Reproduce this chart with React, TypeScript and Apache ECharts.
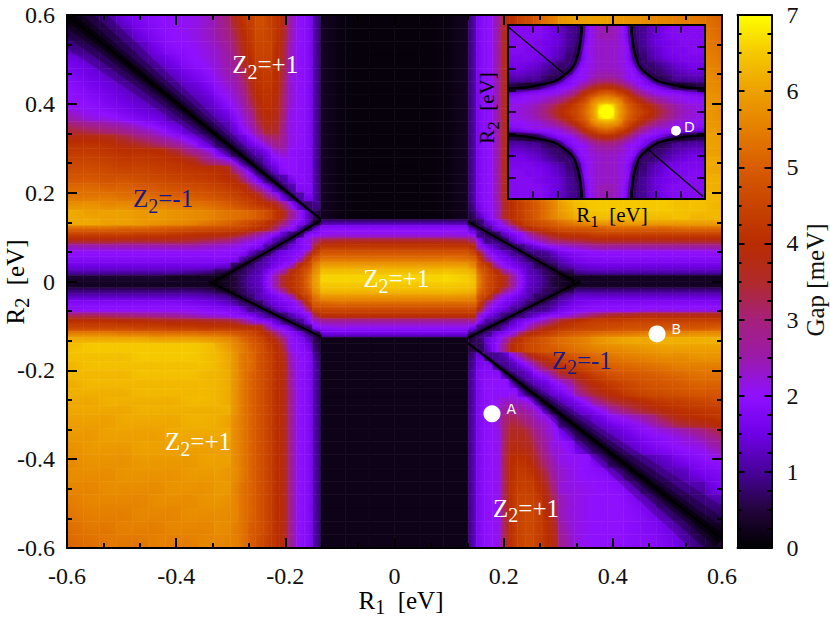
import React, { useEffect, useRef } from "react";
import * as echarts from "echarts";

// Cell edges of the main map, in eV (non-uniform: finer where the picture changes quickly)
const xEdges = [-0.6,-0.57,-0.54,-0.51,-0.48,-0.45,-0.42,-0.39,-0.36,-0.33,-0.3,-0.285,-0.27,-0.255,-0.24,-0.225,-0.21,-0.195,-0.18,-0.165,-0.15,-0.135,-0.09,-0.045,0,0.045,0.09,0.135,0.15,0.165,0.18,0.195,0.21,0.225,0.24,0.255,0.27,0.285,0.3,0.33,0.36,0.39,0.42,0.45,0.48,0.51,0.54,0.57,0.6];
const yEdges = [0.6,0.57,0.54,0.51,0.48,0.45,0.42,0.39,0.36,0.33,0.3,0.28,0.26,0.24,0.22,0.2,0.18,0.16,0.14,0.126,0.112,0.098,0.084,0.07,0.056,0.042,0.028,0.014,0,-0.014,-0.028,-0.042,-0.056,-0.07,-0.084,-0.098,-0.112,-0.126,-0.14,-0.16,-0.18,-0.2,-0.22,-0.24,-0.26,-0.28,-0.3,-0.33,-0.36,-0.39,-0.42,-0.45,-0.48,-0.51,-0.54,-0.57,-0.6];

// Gap in tenths of a meV; one row per y cell, top to bottom
const gapLeft = [
[6,8,10,14,17,19,20,21,23,28,36,41,44,47,45,42,36,24,20,18,10],
[8,8,9,11,15,18,20,21,23,27,33,39,43,46,45,42,35,24,20,18,10],
[11,10,10,10,12,16,19,20,22,25,31,37,42,45,45,41,34,23,20,18,10],
[15,13,11,10,11,13,16,19,21,24,28,35,40,44,44,40,33,23,20,18,10],
[17,15,13,11,10,11,13,16,19,23,26,32,38,42,43,40,32,22,20,18,10],
[19,17,15,13,11,10,11,13,16,21,24,29,36,41,42,39,31,22,20,18,10],
[20,19,17,15,13,11,10,11,13,18,22,26,33,39,41,38,30,22,20,18,10],
[23,21,20,18,16,14,11,10,11,14,19,23,28,36,39,37,29,21,20,18,10],
[32,30,28,26,23,20,16,12,10,11,15,20,24,31,36,35,27,21,20,18,10],
[40,40,39,36,33,29,25,20,14,10,11,13,17,21,26,29,26,21,20,18,10],
[43,43,42,41,41,40,36,30,24,15,10,10,11,13,17,22,23,20,19,18,10],
[45,45,44,43,43,42,41,38,31,25,19,13,10,10,14,18,20,20,19,18,10],
[47,47,46,45,45,44,43,42,41,39,29,22,16,10,11,14,19,20,19,18,10],
[49,49,48,48,47,46,45,44,43,41,38,30,22,15,10,10,11,17,19,18,10],
[52,52,51,51,50,49,48,47,46,44,42,40,33,26,19,12,10,11,18,18,10],
[54,54,54,53,53,52,51,50,49,47,45,43,41,37,30,24,14,10,11,16,10],
[58,58,57,57,56,56,55,54,53,51,49,47,45,43,41,37,30,20,12,8,9],
[61,60,60,60,59,59,58,57,56,54,53,52,51,49,46,42,36,26,20,12,6],
[61,61,60,60,59,58,57,56,54,52,50,48,46,44,41,36,30,22,18,12,6],
[52,52,52,51,51,50,49,48,47,46,45,44,42,40,36,30,22,19,12,9,15],
[44,44,44,44,43,43,42,41,40,39,37,34,30,26,22,18,12,9,10,18,20],
[36,36,36,35,35,35,35,34,32,30,27,24,22,20,17,11,9,11,18,21,30],
[24,24,24,24,24,24,24,24,23,22,21,20,18,16,10,9,10,15,18,21,37],
[20,20,20,20,20,20,20,20,20,20,19,18,12,9,9,13,16,18,20,31,44],
[18,18,18,18,18,18,18,18,18,18,17,10,8,9,12,15,17,19,26,41,50],
[15,15,15,15,15,15,15,15,15,14,7,7,8,11,13,17,20,26,40,46,55],
[11,11,11,11,11,11,11,10,9,6,6,7,10,12,17,22,28,39,44,50,58],
[4,4,4,4,4,4,3,3,3,3,5,8,11,13,19,26,36,41,45,52,60],
[3,3,3,3,3,3,3,3,3,3,5,8,11,13,19,26,36,41,45,52,60],
[8,8,8,8,8,8,8,8,7,5,5,7,10,12,17,22,29,39,44,50,58],
[13,13,13,13,13,13,13,13,12,10,7,7,8,12,14,17,20,26,40,46,54],
[18,18,18,18,18,18,18,17,16,14,11,8,8,8,12,15,17,19,26,41,50],
[20,20,20,20,20,20,20,20,19,18,17,14,9,9,9,12,15,18,20,31,45],
[32,32,31,30,29,28,27,25,23,22,20,19,17,13,10,9,9,12,16,20,34],
[41,41,41,40,40,39,38,38,37,36,34,29,24,21,19,14,10,9,10,17,23],
[46,46,46,46,45,45,44,44,43,43,42,41,40,38,28,21,18,13,9,9,18],
[56,56,56,55,55,54,54,54,53,52,50,48,46,43,38,31,23,19,15,10,8],
[62,62,62,62,62,61,61,61,60,58,55,52,49,46,42,37,29,20,18,13,6],
[64,65,65,65,65,65,65,65,64,61,57,54,51,48,44,40,33,21,19,16,7],
[64,64,64,64,65,65,65,65,64,62,58,54,52,48,45,41,36,23,20,18,9],
[63,64,64,64,64,64,64,64,64,62,58,54,52,48,45,41,37,24,20,18,10],
[63,63,63,63,64,64,64,64,63,62,58,54,51,48,45,41,37,25,20,18,10],
[62,63,63,63,63,63,63,63,63,62,58,54,51,48,45,41,37,25,20,18,10],
[62,62,62,62,63,63,63,63,63,62,58,54,51,48,45,41,37,26,20,18,10],
[61,61,62,62,62,62,62,63,63,62,58,54,51,48,45,41,37,26,20,18,10],
[61,61,61,61,62,62,62,62,62,62,58,54,51,48,45,41,37,26,20,18,10],
[60,60,60,61,61,61,61,62,62,61,57,54,51,48,45,41,37,26,20,18,10],
[59,59,60,60,60,60,61,61,61,61,57,54,51,48,45,41,37,26,20,18,10],
[58,59,59,59,60,60,60,60,60,60,57,54,51,48,45,41,37,26,20,18,10],
[57,58,58,58,59,59,59,59,60,60,57,54,51,48,45,41,37,26,20,18,10],
[57,57,57,58,58,58,58,59,59,59,57,54,51,48,45,41,37,26,20,18,10],
[56,56,57,57,57,57,58,58,58,59,56,53,51,48,45,41,37,26,20,18,10],
[55,56,56,56,56,57,57,57,58,58,56,53,51,48,45,41,37,26,20,18,10],
[54,55,55,55,56,56,56,57,57,57,56,53,51,48,45,41,37,26,20,18,10],
[53,54,54,55,55,55,56,56,56,57,55,53,50,48,45,41,37,26,20,18,10],
[52,53,54,54,54,55,55,55,56,56,55,53,50,47,44,41,37,26,20,18,10],
];
const gapCore = [
[2,1,1,1,1,2],[2,1,1,1,1,2],[2,1,1,1,1,2],[2,1,1,1,1,2],[2,1,1,1,1,2],[2,1,1,1,1,2],
[2,1,1,1,1,2],[2,1,1,1,1,2],[2,1,1,1,1,2],[2,1,1,1,1,2],[2,1,1,1,1,2],[2,1,1,1,1,2],
[2,1,1,1,1,2],[2,1,1,1,1,2],[2,1,1,1,1,2],[2,1,1,1,1,2],[2,1,1,1,1,2],[2,1,1,1,1,2],
[10,10,10,10,10,10],[19,19,19,19,19,19],[22,22,22,22,22,22],[35,36,36,36,36,35],[43,43,43,43,43,43],
[49,49,49,49,49,49],[54,54,54,54,54,54],[60,60,60,60,60,60],[64,64,64,64,64,64],[66,66,66,66,66,66],
[65,65,65,65,65,65],[63,63,63,63,63,63],[58,58,58,58,58,58],[52,52,52,52,52,52],[46,46,46,46,46,46],
[40,40,40,40,40,40],[26,26,26,26,26,26],[20,20,20,20,20,20],[14,14,14,14,14,14],[2,2,2,2,2,2],
[2,2,2,2,2,2],[2,2,2,2,2,2],[2,2,2,2,2,2],[2,2,2,2,2,2],[2,2,2,2,2,2],[2,2,2,2,2,2],
[2,2,2,2,2,2],[2,2,2,2,2,2],[2,2,2,2,2,2],[2,2,2,2,2,2],[2,2,2,2,2,2],[2,2,2,2,2,2],
[2,2,2,2,2,2],[2,2,2,2,2,2],[2,2,2,2,2,2],[2,2,2,2,2,2],[2,2,2,2,2,2],[2,2,2,2,2,2],
];
const gapRight = [
[10,18,20,25,37,41,45,47,50,53,55,59,60,60,59,58,57,56,55,54,52],
[10,18,20,25,37,41,45,47,50,53,55,59,60,60,59,59,58,57,56,55,53],
[10,18,20,25,37,41,45,48,50,53,56,59,61,60,60,59,58,58,57,56,54],
[10,18,20,25,37,41,45,48,51,54,56,60,61,61,60,60,59,58,58,57,55],
[10,18,20,25,37,41,45,48,51,54,56,60,61,61,61,60,60,59,58,58,56],
[10,18,20,25,37,41,45,48,51,54,57,60,62,61,61,61,60,60,59,58,57],
[10,18,20,25,37,41,45,48,51,54,57,60,62,62,62,61,61,60,60,59,58],
[10,18,20,25,37,41,45,48,51,54,57,61,62,62,62,62,61,61,60,60,58],
[10,18,20,25,37,41,45,48,51,54,57,61,63,63,62,62,62,61,61,60,59],
[10,18,20,25,37,41,45,48,51,54,57,61,63,63,63,62,62,62,61,61,60],
[10,18,20,25,37,41,45,48,51,54,57,62,63,63,63,63,62,62,62,61,60],
[10,18,20,25,37,41,45,48,51,54,57,62,63,63,63,63,63,62,62,62,61],
[10,18,20,25,37,41,45,48,51,54,57,62,64,63,63,63,63,63,63,62,61],
[10,18,20,25,37,41,45,48,51,54,57,62,64,64,63,63,63,63,63,62,62],
[10,18,20,25,37,41,45,48,51,54,57,62,64,64,64,64,63,63,63,63,62],
[10,18,20,25,37,41,45,48,51,54,57,62,64,64,64,64,64,64,63,63,63],
[9,17,20,24,36,41,44,47,50,53,56,61,64,65,65,65,65,65,64,64,63],
[7,14,19,24,36,41,44,47,50,53,56,60,63,64,64,64,64,64,64,63,63],
[6,8,15,19,26,36,42,45,47,49,51,54,57,59,59,60,60,60,60,60,60],
[12,9,10,16,19,24,33,39,42,44,46,48,49,50,51,51,51,51,52,52,52],
[20,9,8,8,13,17,20,26,31,35,38,41,42,44,44,44,44,44,44,44,44],
[30,17,9,9,9,13,17,20,23,27,30,32,34,36,36,36,36,36,36,36,36],
[40,22,16,12,9,9,9,12,15,18,20,22,24,26,26,26,26,26,26,26,26],
[46,34,21,17,14,10,9,9,9,10,13,17,19,20,20,20,20,20,20,20,20],
[52,42,27,20,17,14,11,8,8,8,10,14,17,18,18,18,18,18,18,18,18],
[57,47,41,26,20,17,14,11,7,7,7,11,14,15,15,15,15,15,15,15,15],
[62,51,45,39,28,22,17,12,10,7,6,6,10,11,11,11,11,11,11,11,11],
[64,53,46,42,36,26,19,13,11,8,5,3,3,3,3,3,3,3,3,3,3],
[64,53,46,42,36,26,19,13,11,8,5,3,3,3,3,3,3,3,3,3,3],
[62,51,45,39,28,22,17,12,10,7,6,6,9,9,9,9,9,9,9,9,9],
[57,47,41,26,20,17,14,11,7,7,7,11,14,14,14,14,14,14,14,14,14],
[52,42,27,20,17,14,11,8,8,8,10,14,17,18,18,18,18,18,18,18,18],
[46,34,21,17,14,10,9,9,9,10,13,17,19,20,20,20,21,21,21,21,21],
[40,22,16,12,9,9,9,12,15,18,20,22,28,33,36,37,38,38,38,38,38],
[26,17,10,9,9,13,17,20,23,27,32,38,42,44,44,45,45,45,45,45,45],
[16,9,8,8,13,17,20,27,33,37,40,43,45,46,47,48,48,49,49,49,50],
[8,9,10,16,19,24,33,39,42,44,46,49,51,53,54,55,56,57,57,58,58],
[6,8,15,19,26,36,42,45,47,49,51,53,55,58,60,61,61,62,62,62,62],
[6,7,14,20,29,40,43,46,47,49,50,52,54,56,57,58,59,60,60,60,60],
[9,15,9,10,12,19,26,34,39,42,44,47,50,52,54,55,56,57,57,58,58],
[10,17,18,11,10,12,16,21,28,34,38,43,46,49,51,52,53,54,55,55,55],
[11,18,19,19,12,10,11,14,19,22,28,36,41,45,48,49,50,51,52,53,53],
[11,18,20,20,20,13,10,11,13,15,19,24,35,41,44,46,48,49,50,51,51],
[11,18,20,20,20,20,13,10,11,12,15,19,30,37,41,44,46,47,48,49,49],
[11,18,20,21,23,23,22,20,13,10,11,14,20,29,35,38,41,43,44,45,46],
[11,18,20,21,26,27,26,24,21,14,10,11,15,20,27,32,36,39,41,42,43],
[11,18,20,22,30,33,31,28,24,22,18,10,11,14,18,21,25,31,36,38,40],
[11,18,20,21,31,36,36,33,28,24,21,15,10,11,13,16,19,21,23,26,30],
[11,18,20,21,32,38,38,36,31,26,22,20,13,10,11,13,16,18,20,21,24],
[11,18,20,21,33,40,41,39,34,29,24,21,20,15,10,10,11,13,16,18,20],
[11,18,20,21,33,41,43,42,38,33,26,22,20,19,16,11,10,11,12,15,17],
[11,18,20,21,33,42,44,44,41,36,29,22,21,20,19,16,11,10,11,11,15],
[11,18,20,21,33,42,45,45,43,38,32,23,21,20,20,18,15,11,10,10,11],
[11,18,20,21,33,42,45,46,44,40,34,23,21,20,20,19,17,14,11,10,9],
[11,18,20,21,33,42,45,46,44,41,36,24,21,20,20,19,18,16,13,9,7],
[11,18,20,21,33,42,45,46,44,41,37,25,21,20,20,19,19,17,14,10,6],
];

// Inset: one quadrant of the symmetric map, tenths of a meV, from the centre outwards
const insetQuadrant = [
[70,60,52,46,42,38,33,29,25,23,22,21],
[60,56,48,42,36,31,27,24,22,21,20,20],
[50,46,41,33,27,23,21,20,19,18,17,16],
[38,35,30,24,20,18,15,12,8,7,7,8],
[28,26,22,20,17,12,8,8,10,10,11,11],
[24,23,21,18,11,8,8,10,12,13,14,14],
[23,22,20,15,9,8,10,12,14,15,16,16],
[23,22,19,11,8,11,13,15,16,17,17,17],
[23,22,19,10,9,12,14,16,17,17,18,18],
[23,22,18,10,10,13,15,16,17,18,18,18],
[24,22,17,10,10,13,15,17,18,18,18,18],
[24,22,17,10,10,13,15,17,18,18,18,18],
];

const colorStops = ["#000000","#22043c","#48029a","#7000e6","#8f10ff","#9a1aaa","#a6207c","#b02a2a","#b92c00","#c84400","#d85c00","#e57f00","#eda000","#f5c800","#ffff00"];

// Lines where the gap closes
const mainFans = [
  [-0.135,0.14,-0.6,0.6],
  [0.135,-0.139,0.6,-0.58],
];
const fanLayers = [[28,0.2],[18,0.3],[10,0.4],[5,0.6]];
const mainRidges = [
  [[-0.6,0.6],[-0.135,0.14]],
  [[0.135,-0.139],[0.6,-0.58]],
];
const hexRidges = [
  [[-0.33,0],[-0.25,0.055],[-0.2,0.09],[-0.135,0.138]],
  [[-0.34,0],[-0.243,-0.06],[-0.134,-0.125]],
  [[0.135,0.135],[0.2,0.09],[0.25,0.055],[0.33,0]],
  [[0.135,-0.127],[0.34,0]],
];
const insetDiagonals = [
  [[-4,3.92],[-1.68,1.72]],
  [[1.64,-1.68],[3.92,-3.88]],
];
const insetArcs = [
  [[-1.016,4],[-1.16,2.68],[-1.64,1.76],[-2.72,1.24],[-4,1.08]],
  [[1.016,4],[1.16,2.68],[1.64,1.76],[2.72,1.24],[4,1.08]],
  [[-1.016,-4],[-1.16,-2.68],[-1.64,-1.76],[-2.72,-1.24],[-4,-1.08]],
  [[1.016,-4],[1.16,-2.68],[1.64,-1.76],[2.72,-1.24],[4,-1.08]],
];
const mainPoints = [["A",0.1786,-0.298],["B",0.481,-0.118]];
const insetPoints = [["D",2.82,-0.86]];
const phaseLabels = [
  ["+1",-0.237,0.488,"#ffffff"],
  ["-1",-0.424,0.186,"#1a1a8c"],
  ["+1",0.003,0.006,"#ffffff"],
  ["+1",-0.36,-0.361,"#ffffff"],
  ["-1",0.343,-0.177,"#1a1a8c"],
  ["+1",0.241,-0.51,"#ffffff"],
];

const SERIF = "Liberation Serif";
const SANS = "DejaVu Sans";
const INK = "#000000";

const stopRgb = colorStops.map((h) => [1, 3, 5].map((i) => parseInt(h.slice(i, i + 2), 16)));
const gapColor = (v: number) => {
  const t = Math.min(Math.max(v, 0), 7) * 2;
  const i = Math.min(Math.floor(t), 13);
  const f = t - i;
  const c = stopRgb[i].map((a, k) => Math.round(a + (stopRgb[i + 1][k] - a) * f));
  return `rgb(${c[0]},${c[1]},${c[2]})`;
};

// Each cell is one rect; inside it the colour is shaded along the local slope, as a smooth raster would be.
const renderCell = (_: any, api: any) => {
  const x0 = api.value(0), x1 = api.value(1), y0 = api.value(2), y1 = api.value(3);
  const v = api.value(4), sx = api.value(5), sy = api.value(6);
  const a = api.coord([x0, y0]);
  const b = api.coord([x1, y1]);
  const w = b[0] - a[0], h = b[1] - a[1];
  const gx = sx * (x1 - x0) / w, gy = sy * (y1 - y0) / h;
  const g = Math.hypot(gx, gy);
  let fill: any = gapColor(v);
  if (g > 1e-4) {
    const nx = gx / g, ny = gy / g;
    const L = (Math.abs(nx) * w + Math.abs(ny) * h) / 2;
    const cx = a[0] + w / 2, cy = a[1] + h / 2;
    const dv = g * L;
    fill = {
      type: "linear", global: true,
      x: cx - nx * L, y: cy - ny * L, x2: cx + nx * L, y2: cy + ny * L,
      colorStops: [0, 0.25, 0.5, 0.75, 1].map((o) => ({ offset: o, color: gapColor(v + (o * 2 - 1) * dv) })),
    };
  }
  return {
    type: "rect",
    shape: { x: a[0], y: a[1], width: w, height: h },
    style: { fill, stroke: fill, lineWidth: 0.6 },
  };
};

const renderFan = (_: any, api: any) => {
  const p = api.coord([api.value(0), api.value(1)]);
  const q = api.coord([api.value(2), api.value(3)]);
  const hw = api.value(4);
  const dx = q[0] - p[0], dy = q[1] - p[1];
  const len = Math.hypot(dx, dy);
  const nx = -dy / len * hw, ny = dx / len * hw;
  return {
    type: "polygon",
    shape: { points: [p, [q[0] + nx, q[1] + ny], [q[0] - nx, q[1] - ny]] },
    style: { fill: "#000", opacity: api.value(5) },
  };
};

const slopeOf = (p: number | null, q: number | null, dp: number, dq: number, centred: boolean) => {
  if (p === null) return q!;
  if (q === null) return p;
  if (centred || Math.max(Math.abs(p * dp), Math.abs(q * dq)) < 0.25) return (p + q) / 2;
  return p * q > 0 ? (2 * p * q) / (p + q) : 0;
};
// rows of values + edges -> [x0,x1,y0,y1,gap,slopeX,slopeY] per cell
const toCells = (grid: number[][], xs: number[], ys: number[], centred: boolean) => {
  const mid = (e: number[], i: number) => (e[i] + e[i + 1]) / 2;
  const out: number[][] = [];
  grid.forEach((row, r) =>
    row.forEach((v, c) => {
      const dxb = c > 0 ? mid(xs, c) - mid(xs, c - 1) : 1;
      const dxf = c < row.length - 1 ? mid(xs, c + 1) - mid(xs, c) : 1;
      const dyu = r > 0 ? mid(ys, r) - mid(ys, r - 1) : 1;
      const dyd = r < grid.length - 1 ? mid(ys, r + 1) - mid(ys, r) : 1;
      const sx = slopeOf(c > 0 ? (v - row[c - 1]) / dxb : null, c < row.length - 1 ? (row[c + 1] - v) / dxf : null, dxb, dxf, centred);
      const sy = slopeOf(r > 0 ? (v - grid[r - 1][c]) / dyu : null, r < grid.length - 1 ? (grid[r + 1][c] - v) / dyd : null, dyu, dyd, centred);
      out.push([xs[c], xs[c + 1], ys[r], ys[r + 1], v, sx, sy]);
    }),
  );
  return out;
};

const subscriptRich = (size: number, color: string) => ({
  a: { fontFamily: SERIF, fontSize: size, color, verticalAlign: "middle", lineHeight: size + 4 },
  s: { fontFamily: SERIF, fontSize: Math.round(size * 0.8), color, verticalAlign: "middle", padding: [Math.round(size * 0.55), 0, 0, 0], lineHeight: size + 4 },
});

const tickNum = (v: number) => (Math.abs(v) < 1e-9 ? "0" : v.toFixed(1));

function buildOption() {
  const mainGrid = gapLeft.map((l, r) => [...l, ...gapCore[r], ...gapRight[r]].map((g) => g / 10));
  const mainCells = toCells(mainGrid, xEdges, yEdges, false);

  const half = insetQuadrant.map((row) => [...[...row].reverse(), ...row].map((g) => g / 10));
  const insetGrid = [...[...half].reverse(), ...half];
  const insetN = insetQuadrant.length;
  const insetEdges = Array.from({ length: insetN * 2 + 1 }, (_, i) => (i - insetN) * (4 / insetN));
  const insetCells = toCells(insetGrid, insetEdges, [...insetEdges].reverse(), true);

  const frame = { show: true, onZero: false, lineStyle: { color: INK, width: 2 } };
  const mainAxis = (gridIndex: number, position: string, labels: boolean, margin: number) => ({
    type: "value", gridIndex, position, min: -0.6, max: 0.6, interval: 0.2, z: 3,
    axisLine: frame,
    axisTick: { show: true, inside: true, length: 10, lineStyle: { color: INK, width: 2 } },
    minorTick: { show: true, splitNumber: 3, length: 5, lineStyle: { color: INK, width: 2 } },
    splitLine: { show: false },
    axisLabel: { show: labels, formatter: tickNum, color: "#111", fontFamily: SERIF, fontSize: 24, margin },
  });
  const insetAxis = (position: string) => ({
    type: "value", gridIndex: 1, position, min: -4, max: 4, interval: 1, z: 6,
    axisLine: frame,
    axisTick: { show: true, inside: true, length: 8, lineStyle: { color: INK, width: 1.5 } },
    splitLine: { show: false }, axisLabel: { show: false },
  });
  const barTick = (position: string, labels: boolean) => ({
    type: "value", gridIndex: 2, position, min: 0, max: 7, interval: 1, z: 6,
    axisLine: frame,
    axisTick: { show: true, inside: true, length: 7, lineStyle: { color: INK, width: 2 } },
    minorTick: { show: true, splitNumber: 4, length: 4, lineStyle: { color: INK, width: 2 } },
    splitLine: { show: false },
    axisLabel: { show: labels, color: "#111", fontFamily: SERIF, fontSize: 24, margin: 15 },
  });
  const ridge = (d: number[][], ax: number, width: number, opacity: number, z: number, smooth = false) => ({
    type: "line", data: d, xAxisIndex: ax, yAxisIndex: ax, showSymbol: false, symbol: "none", smooth,
    lineStyle: { color: "#000", width, opacity }, z, silent: true,
  });

  const series: any[] = [
    { type: "custom", name: "gap", coordinateSystem: "cartesian2d", xAxisIndex: 0, yAxisIndex: 0, renderItem: renderCell, data: mainCells, encode: { x: [0, 1], y: [2, 3] }, z: 2, silent: true },
    { type: "custom", name: "inset", coordinateSystem: "cartesian2d", xAxisIndex: 2, yAxisIndex: 2, renderItem: renderCell, data: insetCells, encode: { x: [0, 1], y: [2, 3] }, z: 4, silent: true },
    { type: "custom", name: "halo", coordinateSystem: "cartesian2d", xAxisIndex: 0, yAxisIndex: 0, renderItem: renderFan, clip: true, z: 2.2, silent: true,
      data: mainFans.flatMap((f) => fanLayers.map((l) => [...f, ...l])), encode: { x: [0, 2], y: [1, 3] } },
  ];
  mainRidges.forEach((d) => series.push(ridge(d, 0, 2.4, 1, 2.5)));
  hexRidges.forEach((d) => {
    series.push(ridge(d, 0, 7, 0.3, 2.4));
    series.push(ridge(d, 0, 2.4, 1, 2.5));
  });
  insetDiagonals.forEach((d) => series.push(ridge(d, 2, 1.3, 1, 5)));
  insetArcs.forEach((d) => {
    series.push(ridge(d, 2, 8, 0.3, 4.9, true));
    series.push(ridge(d, 2, 2.6, 1, 5, true));
  });
  series.push({
    type: "scatter", xAxisIndex: 0, yAxisIndex: 0, symbolSize: 0, z: 3, silent: true, itemStyle: { opacity: 1 },
    data: phaseLabels.map((p) => ({ value: [p[1], p[2]], label: { show: true, position: "inside", formatter: `{a|Z}{s|2}{a|=${p[0]}}`, rich: subscriptRich(25, p[3] as string) } })),
  });
  series.push({
    type: "scatter", xAxisIndex: 0, yAxisIndex: 0, symbolSize: 17, itemStyle: { color: "#fff", opacity: 1 }, z: 3, silent: true,
    data: mainPoints.map((p) => ({ value: [p[1], p[2]], label: { show: true, position: "right", distance: 6, offset: [0, -5], formatter: p[0] as string, color: "#fff", fontFamily: SANS, fontSize: 14 } })),
  });
  series.push({
    type: "scatter", xAxisIndex: 2, yAxisIndex: 2, symbolSize: 10, itemStyle: { color: "#fff", opacity: 1 }, z: 7, silent: true,
    data: insetPoints.map((p) => ({ value: [p[1], p[2]], label: { show: true, position: "right", distance: 3, offset: [0, -4], formatter: p[0] as string, color: "#fff", fontFamily: SANS, fontSize: 14 } })),
  });

  return {
    animation: false,
    backgroundColor: "#ffffff",
    grid: [
      { left: 67, top: 15, width: 655, height: 533 },
      { left: 508, top: 25, width: 197, height: 174, z: 4 },
      { left: 737.5, top: 15, width: 34, height: 533 },
    ],
    xAxis: [
      mainAxis(0, "bottom", true, 16),
      mainAxis(0, "top", false, 12),
      insetAxis("bottom"),
      insetAxis("top"),
      { type: "value", gridIndex: 2, min: 0, max: 1, position: "top", axisLine: frame, axisTick: { show: false }, axisLabel: { show: false }, splitLine: { show: false }, z: 6 },
      { type: "value", gridIndex: 2, min: 0, max: 1, position: "bottom", axisLine: frame, axisTick: { show: false }, axisLabel: { show: false }, splitLine: { show: false }, z: 6 },
    ],
    yAxis: [
      mainAxis(0, "left", true, 12),
      mainAxis(0, "right", false, 12),
      insetAxis("left"),
      insetAxis("right"),
      barTick("left", false),
      barTick("right", true),
    ],
    visualMap: [{
      type: "continuous", seriesIndex: [0, 1], dimension: 4, min: 0, max: 7,
      calculable: false, realtime: false, show: true, padding: 0, left: 737.5, top: 15, itemWidth: 34, itemHeight: 533,
      hoverLink: false, inRange: { color: colorStops }, z: 4,
    }],
    series,
    graphic: [
      { type: "text", x: 401, y: 600, z: 20, style: { text: "{a|R}{s|1}{a|  [eV]}", align: "center", verticalAlign: "middle", rich: subscriptRich(25, "#111") } },
      { type: "text", x: 15, y: 282, rotation: Math.PI / 2, z: 20, style: { text: "{a|R}{s|2}{a|  [eV]}", align: "center", verticalAlign: "middle", rich: subscriptRich(25, "#111") } },
      { type: "text", x: 815, y: 280, rotation: Math.PI / 2, z: 20, style: { text: "Gap [meV]", align: "center", verticalAlign: "middle", fontFamily: SERIF, fontSize: 25, fill: "#111" } },
      { type: "text", x: 612, y: 215, z: 20, style: { text: "{a|R}{s|1}{a|  [eV]}", align: "center", verticalAlign: "middle", rich: subscriptRich(21, "#111") } },
      { type: "text", x: 487, y: 108, rotation: Math.PI / 2, z: 20, style: { text: "{a|R}{s|2}{a|  [eV]}", align: "center", verticalAlign: "middle", rich: subscriptRich(21, "#111") } },
    ],
  };
}

export default function App() {
  const ref = useRef<HTMLDivElement>(null);
  useEffect(() => {
    document.body.style.margin = "0";
    const chart = echarts.init(ref.current!, undefined, { renderer: "svg" });
    chart.setOption(buildOption() as any);
    return () => chart.dispose();
  }, []);
  return <div ref={ref} style={{ width: 830, height: 623 }} />;
}
